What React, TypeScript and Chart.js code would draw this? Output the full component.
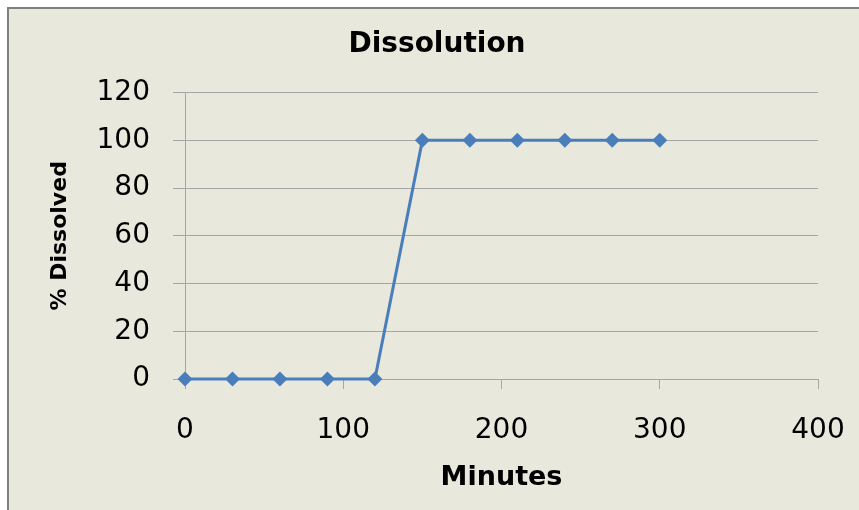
import React, { useEffect, useRef } from "react";
import { Chart, registerables } from "chart.js";

Chart.register(...registerables);

const minutes: number[] = [0, 30, 60, 90, 120, 150, 180, 210, 240, 270, 300];
const dissolved: number[] = [0, 0, 0, 0, 0, 100, 100, 100, 100, 100, 100];
const yTicks: number[] = [0, 20, 40, 60, 80, 100, 120];
const xTicks: number[] = [0, 100, 200, 300, 400];

const chartTitle = "Dissolution";
const xTitle = "Minutes";
const yTitle = "% Dissolved";

export default function App() {
  const ref = useRef<HTMLCanvasElement>(null);

  useEffect(() => {
    if (!ref.current) return;
    const points = minutes.map((m, i) => ({ x: m, y: dissolved[i] }));
    const chart = new Chart(ref.current, {
      type: "line",
      data: {
        datasets: [
          {
            label: yTitle,
            data: points,
            borderColor: "#4A7EBB",
            backgroundColor: "#4A7EBB",
            borderWidth: 3,
            pointStyle: "rectRot",
            pointRadius: 7.5,
            pointBorderWidth: 0,
            tension: 0,
            clip: false,
          },
        ],
      },
      options: {
        animation: false,
        responsive: false,
        layout: { padding: { left: 6, right: 0, top: 0, bottom: 0 } },
        plugins: {
          legend: { display: false },
          tooltip: { enabled: false },
          title: {
            display: true,
            text: chartTitle,
            color: "#000",
            font: { family: "'DejaVu Sans'", size: 28, weight: "bold" },
            padding: { top: 19, bottom: 31 },
          },
        },
        scales: {
          x: {
            type: "linear",
            min: 0,
            max: 400,
            afterBuildTicks: (s: any) => {
              s.ticks = xTicks.map((v) => ({ value: v }));
            },
            afterFit: (s: any) => {
              s.height = 131;
              s.paddingRight = 41;
              s.paddingLeft = 0;
            },
            grid: {
              drawOnChartArea: false,
              drawTicks: true,
              tickLength: 10,
              tickColor: "#A6A6A6",
              color: "#A6A6A6",
            },
            border: { display: true, color: "#A6A6A6", width: 1 },
            ticks: {
              color: "#000",
              font: { family: "'DejaVu Sans'", size: 28 },
              padding: 25,
              maxRotation: 0,
            },
            title: {
              display: true,
              text: xTitle,
              color: "#000",
              font: { family: "'DejaVu Sans'", size: 27, weight: "bold" },
              padding: { top: 0, bottom: 16 },
            },
          },
          y: {
            type: "linear",
            min: 0,
            max: 120,
            afterBuildTicks: (s: any) => {
              s.ticks = yTicks.map((v) => ({ value: v }));
            },
            afterFit: (s: any) => {
              s.width = 170;
            },
            grid: {
              color: "#A6A6A6",
              lineWidth: 1,
              drawTicks: true,
              tickLength: 12,
              tickColor: "#A6A6A6",
            },
            border: { display: true, color: "#A6A6A6", width: 1 },
            ticks: {
              color: "#000",
              font: { family: "'DejaVu Sans'", size: 28 },
              padding: 23,
            },
            title: {
              display: true,
              text: yTitle,
              color: "#000",
              font: { family: "'DejaVu Sans'", size: 22, weight: "bold" },
              padding: { top: 32, bottom: 0 },
            },
          },
        },
      },
    });
    return () => chart.destroy();
  }, []);

  return (
    <div
      style={{
        position: "absolute",
        left: 0,
        top: 0,
        width: 859,
        height: 510,
        background: "#FFFFFF",
      }}
    >
      <div
        style={{
          position: "absolute",
          left: 7,
          top: 7,
          width: 852,
          height: 503,
          boxSizing: "border-box",
          borderTop: "2px solid #7F7F7F",
          borderLeft: "2px solid #7F7F7F",
          background: "#E8E8DD",
        }}
      >
        <canvas ref={ref} width={850} height={501} style={{ display: "block", width: 850, height: 501 }} />
      </div>
    </div>
  );
}
